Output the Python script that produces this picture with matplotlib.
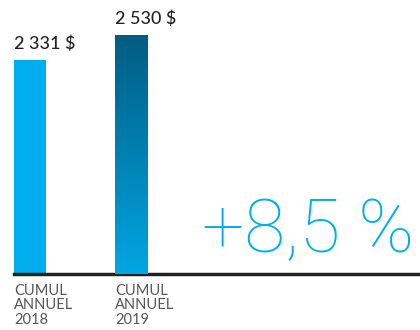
import numpy as np
import matplotlib.pyplot as plt
from matplotlib.colors import LinearSegmentedColormap

categories = ['CUMUL\nANNUEL\n2018', 'CUMUL\nANNUEL\n2019']
values = [2331, 2530]
value_labels = ['2 331 $', '2 530 $']
growth_label = '+8,5 %'

blue = '#00aeef'

fig = plt.figure(figsize=(4.2, 3.3), dpi=100)
ax = fig.add_axes([14 / 420, 56 / 330, 406 / 420, 274 / 330])

x = np.arange(len(values))
width = 0.317
bars = ax.bar(x, values, width=width, color=blue, zorder=2)

# gradient fill for the second bar
grad_cmap = LinearSegmentedColormap.from_list('g', ['#00a6e2', '#005c82'])
b = bars[1]
grad = np.linspace(0, 1, 256).reshape(-1, 1)
im = ax.imshow(grad, cmap=grad_cmap, aspect='auto', origin='lower',
               extent=[b.get_x(), b.get_x() + b.get_width(), 627, b.get_height()],
               zorder=3)
im.set_clip_path(b)
b.set_facecolor('none')

ax.set_xlim(-width / 2, 406 / 101 - width / 2)
ax.set_ylim(627, 2808)

for i, (v, lab) in enumerate(zip(values, value_labels)):
    ax.annotate(lab, (x[i] - width / 2, v), xytext=(0, 6), textcoords='offset points',
                ha='left', va='bottom', fontsize=13, family='Lato', fontweight='medium',
                color='#222222')

for i, cat in enumerate(categories):
    ax.annotate(cat, (x[i] - width / 2, 627), xytext=(0, -7), textcoords='offset points',
                ha='left', va='top', fontsize=10.5, family='Lato', color='#555555',
                linespacing=1.05, annotation_clip=False)

ax.text(0.985, 0.025, growth_label, transform=ax.transAxes, ha='right', va='bottom',
        fontsize=54, family='Roboto', fontweight='light', color=blue)

for s in ['top', 'right', 'left']:
    ax.spines[s].set_visible(False)
ax.spines['bottom'].set_linewidth(2.5)
ax.spines['bottom'].set_color('#222222')
ax.set_xticks([])
ax.set_yticks([])

fig.savefig('out.png', dpi=100)
